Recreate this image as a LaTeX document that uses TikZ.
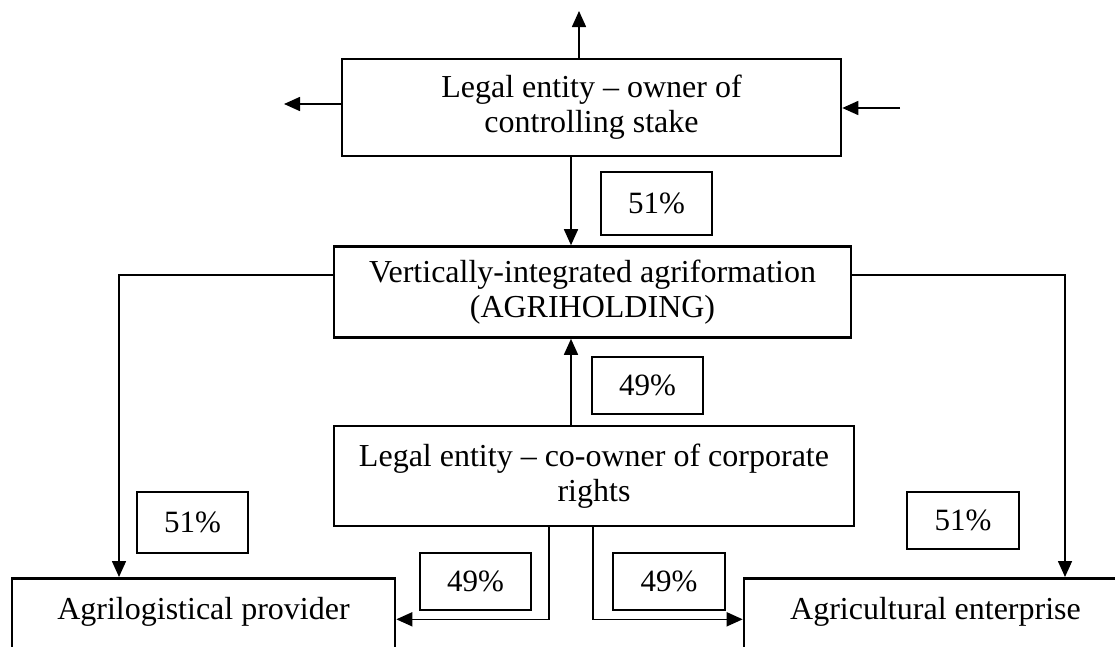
\documentclass[tikz,border=0pt]{standalone}
\usepackage{fontspec}
\setmainfont{Liberation Serif}
\usetikzlibrary{arrows.meta}
\begin{document}
\begin{tikzpicture}[x=1pt,y=-1pt,
  bigbox/.style={draw, line width=2.6pt, inner sep=0pt, align=center, font=\fontsize{32}{35}\selectfont},
  lowbox/.style={draw, line width=2.6pt, anchor=north, minimum width=383pt, inner xsep=0pt, inner ysep=19pt, text height=22pt, text depth=60pt, font=\fontsize{32}{35}\selectfont},
  pctbox/.style={draw, line width=1.8pt, inner sep=0pt, font=\fontsize{31}{35}\selectfont},
  conn/.style={line width=1.6pt},
  arr/.style={conn, -{Triangle[length=16pt,width=14pt]}}]
\useasboundingbox (0,0) rectangle (1115,646);
\clip (0,0) rectangle (1115,646);

% main boxes
\node[bigbox, minimum width=499pt, minimum height=97pt] (top) at (591.5,107.5) {Legal entity – owner of\\controlling stake};
\node[bigbox, minimum width=517pt, minimum height=91pt] (mid) at (592.5,292) {Vertically-integrated agriformation\\(AGRIHOLDING)};
\node[bigbox, minimum width=520pt, minimum height=100pt] (co) at (594,476) {Legal entity – co-owner of corporate\\rights};
\node[lowbox] (agl) at (203.5,577) {Agrilogistical provider};
\node[lowbox] (agc) at (935.5,577) {Agricultural enterprise};

% percentage boxes
\node[pctbox, minimum width=111pt, minimum height=63pt] (p1) at (656.5,203.5) {51\%};
\node[pctbox, minimum width=111pt, minimum height=57pt] (p2) at (647.5,385.5) {49\%};
\node[pctbox, minimum width=111pt, minimum height=61pt] (p3) at (192.5,522.5) {51\%};
\node[pctbox, minimum width=112pt, minimum height=57pt] (p4) at (963,520.5) {51\%};
\node[pctbox, minimum width=111pt, minimum height=57pt] (p5) at (475.5,581.5) {49\%};
\node[pctbox, minimum width=112pt, minimum height=57pt] (p6) at (669,581.5) {49\%};

% free-end arrows around the top box
\coordinate (upTip) at (579,11);
\draw[arr] (upTip |- top.north) -- (upTip);
\coordinate (leftTip) at (284,104);
\draw[arr] (leftTip -| top.west) -- (leftTip);
\coordinate (rightStart) at (900,108);
\draw[arr] (rightStart) -- (rightStart -| top.east);

% connectors
\draw[arr] ([xshift=-20.5pt]top.south) -- ([xshift=-21.5pt]mid.north);
\draw[arr] ([xshift=-23pt]co.north) -- ([xshift=-21.5pt]mid.south);
\draw[arr] ([yshift=17pt]mid.west) -| ([xshift=-84.5pt]agl.north);
\draw[arr] ([yshift=17pt]mid.east) -| ([xshift=129.5pt]agc.north);
\draw[arr] ([xshift=-45pt]co.south) |- (agl.base east);
\draw[arr] ([xshift=-1pt]co.south) |- (agc.base west);
\end{tikzpicture}
\end{document}
